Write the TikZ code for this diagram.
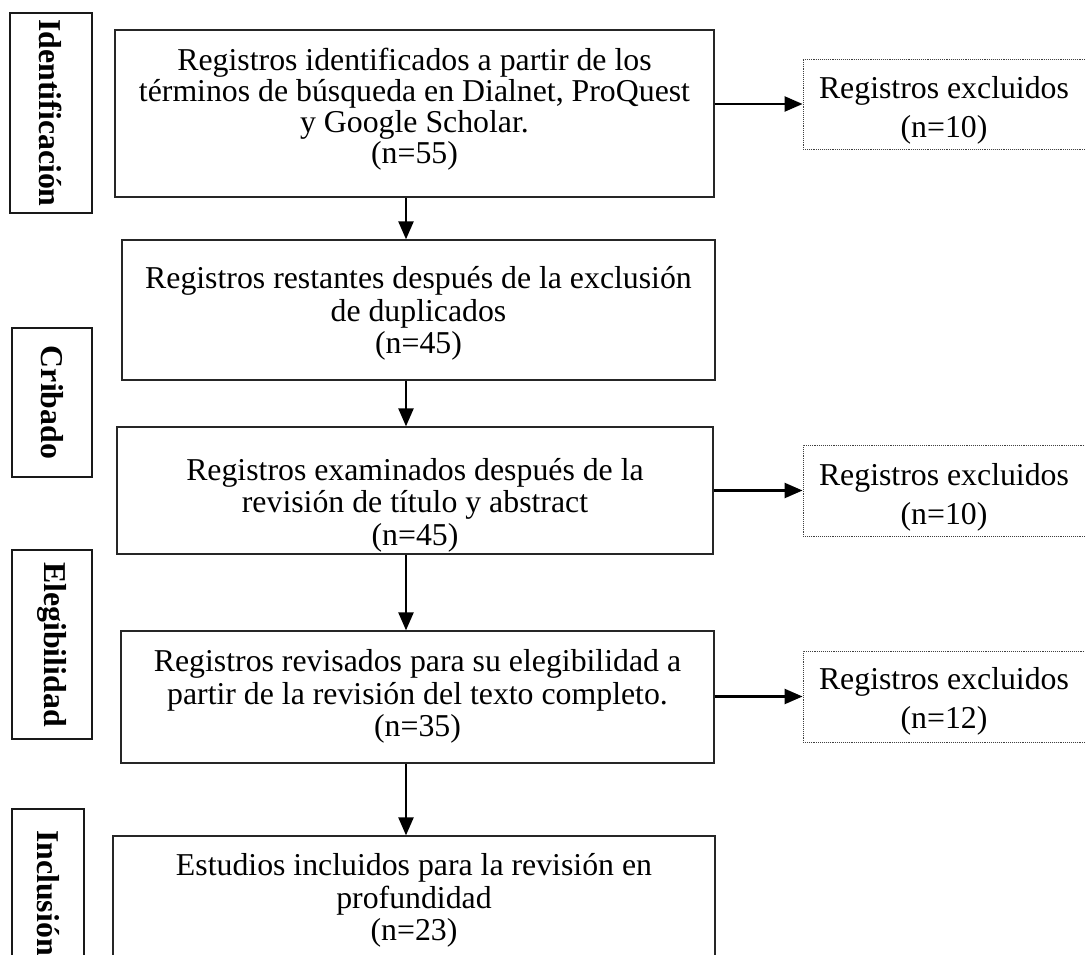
\documentclass[tikz,border=0pt]{standalone}
\usepackage{fontspec}
\setmainfont{Liberation Serif}
\usetikzlibrary{arrows.meta}
\begin{document}
\begin{tikzpicture}[x=1pt,y=-1pt,
  mainbox/.style={draw=black!85,line width=1.3pt,fill=white,inner sep=0pt},
  maintext/.style={align=center,inner sep=0pt,font=\fontsize{31.8}{32.5}\selectfont},
  exbox/.style={draw=black!75,densely dotted,line width=0.9pt,fill=white,inner sep=0pt},
  extext/.style={align=center,inner sep=0pt,font=\fontsize{31.8}{39}\selectfont},
  sidebox/.style={draw=black!90,line width=1.2pt,fill=white,inner sep=0pt,rotate=-90,
    font=\fontsize{31.8}{32}\selectfont\bfseries},
  arr/.style={line width=2.4pt,-{Triangle[length=18pt,width=15pt]}}]
\useasboundingbox (0,0) rectangle (1085,955);
\clip (0,0) rectangle (1085,955);

% side labels
\node[sidebox,minimum width=200,minimum height=82] (s1) at (51,113) {Identificación};
\node[sidebox,minimum width=149,minimum height=80] (s2) at (52,402.5) {Cribado};
\node[sidebox,minimum width=189,minimum height=80] (s3) at (52,644.5) {Elegibilidad};
\node[sidebox,minimum width=168,minimum height=72] (s4) at (48,893) {Inclusión};

% main boxes
\node[mainbox,minimum width=599,minimum height=167] (b1) at (414.5,113.5) {};
\node[maintext,font=\fontsize{31.8}{31}\selectfont] (b1t) at (414.5,109)
  {Registros identificados a partir de los\\términos de búsqueda en Dialnet, ProQuest\\y Google Scholar.\\(n=55)};
\node[mainbox,minimum width=593,minimum height=140] (b2) at (418.5,310) {};
\node[maintext] (b2t) at (418.5,313.5)
  {Registros restantes después de la exclusión\\de duplicados\\(n=45)};
\node[mainbox,minimum width=596,minimum height=127] (b3) at (415,490.5) {};
\node[maintext] (b3t) at (415,505)
  {Registros examinados después de la\\revisión de título y abstract\\(n=45)};
\node[mainbox,minimum width=593,minimum height=132] (b4) at (417.5,697) {};
\node[maintext] (b4t) at (417.5,696.5)
  {Registros revisados para su elegibilidad a\\partir de la revisión del texto completo.\\(n=35)};
\node[mainbox,minimum width=602,minimum height=132] (b5) at (414,902) {};
\node[maintext] (b5t) at (414,900.5)
  {Estudios incluidos para la revisión en\\profundidad\\(n=23)};

% excluded boxes
\node[exbox,minimum width=287,minimum height=90] (e1) at (946.5,104) {};
\node[extext] (e1t) at (944,110) {Registros excluidos\\(n=10)};
\node[exbox,minimum width=287,minimum height=91] (e2) at (946.5,490.5) {};
\node[extext] (e2t) at (944,497) {Registros excluidos\\(n=10)};
\node[exbox,minimum width=287,minimum height=91] (e3) at (946.5,696.5) {};
\node[extext] (e3t) at (944,701) {Registros excluidos\\(n=12)};

% flow column
\coordinate (col) at (406,0);
\draw[arr] (b1.south -| col) -- (b2.north -| col);
\draw[arr] (b2.south -| col) -- (b3.north -| col);
\draw[arr] (b3.south -| col) -- (b4.north -| col);
\draw[arr] (b4.south -| col) -- (b5.north -| col);

% exclusions
\draw[arr] (b1.east |- e1.west) -- (e1.west);
\draw[arr] (b3.east |- e2.west) -- (e2.west);
\draw[arr] (b4.east |- e3.west) -- (e3.west);
\end{tikzpicture}
\end{document}
